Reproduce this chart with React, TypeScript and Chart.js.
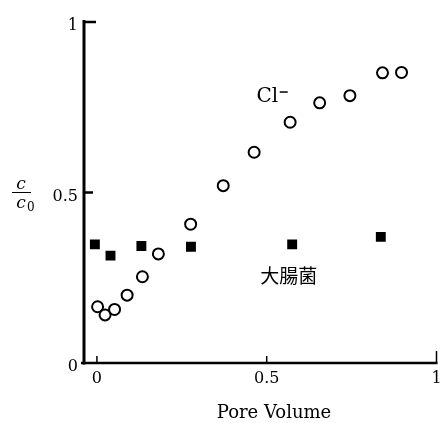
import React, { useEffect, useRef } from "react";
import { Chart, registerables } from "chart.js";

Chart.register(...registerables);

// Cl- breakthrough (open circles)
const clX = [0.002, 0.024, 0.052, 0.089, 0.134, 0.181, 0.276, 0.372, 0.463, 0.569, 0.656, 0.745, 0.841, 0.897];
const clY = [0.165, 0.141, 0.157, 0.199, 0.253, 0.32, 0.407, 0.52, 0.618, 0.706, 0.763, 0.784, 0.851, 0.852];

// E. coli (filled squares)
const ecoliX = [-0.006, 0.04, 0.131, 0.277, 0.575, 0.836];
const ecoliY = [0.348, 0.315, 0.343, 0.341, 0.348, 0.37];

const xTicks = [0, 0.5, 1];
const xTickLabels = ["0", "0.5", "1"];
const yTicks = [0, 0.5, 1];
const yTickLabels = ["0", "0.5", "1"];

const xTitle = "Pore Volume";
const clLabel = "Cl";
const clLabelPos = [0.47, 0.78];
const ecoliLabel = "大腸菌";
const ecoliLabelPos = [0.565, 0.255];

const SERIF = '"DejaVu Serif", "Liberation Serif", serif';

const axesPlugin = {
  id: "axesPlugin",
  afterDraw(chart: any) {
    const { ctx, chartArea, scales } = chart;
    const xs = scales.x;
    const ys = scales.y;
    const left = chartArea.left;
    const right = chartArea.right;
    const top = chartArea.top;
    const bottom = chartArea.bottom;
    ctx.save();
    ctx.strokeStyle = "#000";
    ctx.fillStyle = "#000";
    ctx.lineCap = "butt";
    // y axis
    ctx.lineWidth = 3;
    ctx.beginPath();
    ctx.moveTo(left, top - 2);
    ctx.lineTo(left, bottom + 1.5);
    ctx.stroke();
    // x axis
    ctx.lineWidth = 2.5;
    ctx.beginPath();
    ctx.moveTo(left - 3, bottom);
    ctx.lineTo(right + 1, bottom);
    ctx.stroke();

    // y ticks (inward)
    ctx.lineWidth = 2.5;
    yTicks.forEach((v, i) => {
      const py = ys.getPixelForValue(v);
      if (v !== 0) {
        ctx.beginPath();
        ctx.moveTo(left, py);
        ctx.lineTo(left + (v === 1 ? 12 : 9), py);
        ctx.stroke();
      }
      ctx.font = `16px ${SERIF}`;
      ctx.textAlign = "right";
      ctx.textBaseline = "middle";
      ctx.fillText(yTickLabels[i], left - 6, py + 4);
    });

    // x ticks (inward)
    ctx.lineWidth = 1.5;
    xTicks.forEach((v, i) => {
      const px = xs.getPixelForValue(v);
      ctx.beginPath();
      ctx.moveTo(px, bottom);
      ctx.lineTo(px, bottom - (v === 1 ? 12 : 7));
      ctx.stroke();
      ctx.font = `16px ${SERIF}`;
      ctx.textAlign = "center";
      ctx.textBaseline = "middle";
      ctx.fillText(xTickLabels[i], px, bottom + 16);
    });

    // x title
    ctx.font = `18px ${SERIF}`;
    ctx.textAlign = "center";
    ctx.textBaseline = "alphabetic";
    ctx.fillText(xTitle, 274, 418);

    // y title: c / c0 fraction
    ctx.font = `italic 17px ${SERIF}`;
    ctx.textAlign = "center";
    ctx.textBaseline = "alphabetic";
    ctx.fillText("c", 21, 189);
    ctx.fillText("c", 21, 208);
    ctx.font = `12px ${SERIF}`;
    ctx.textAlign = "left";
    ctx.fillText("0", 27, 211);
    ctx.lineWidth = 1;
    ctx.beginPath();
    ctx.moveTo(12, 192.5);
    ctx.lineTo(31, 192.5);
    ctx.stroke();

    // Cl- label
    const clPx = xs.getPixelForValue(clLabelPos[0]);
    const clPy = ys.getPixelForValue(clLabelPos[1]);
    ctx.font = `20px ${SERIF}`;
    ctx.textAlign = "left";
    ctx.textBaseline = "middle";
    ctx.fillText(clLabel, clPx, clPy);
    const clW = ctx.measureText(clLabel).width;
    ctx.lineWidth = 1.5;
    ctx.beginPath();
    ctx.moveTo(clPx + clW + 1.5, clPy - 5);
    ctx.lineTo(clPx + clW + 9.5, clPy - 5);
    ctx.stroke();

    // E. coli label
    const ePx = xs.getPixelForValue(ecoliLabelPos[0]);
    const ePy = ys.getPixelForValue(ecoliLabelPos[1]);
    ctx.font = `19px "Noto Sans CJK JP", sans-serif`;
    ctx.textAlign = "center";
    ctx.textBaseline = "middle";
    ctx.fillText(ecoliLabel, ePx, ePy);
    ctx.restore();
  },
};

export default function App() {
  const canvasRef = useRef<HTMLCanvasElement | null>(null);

  useEffect(() => {
    if (!canvasRef.current) return;
    const chart = new Chart(canvasRef.current, {
      type: "scatter",
      data: {
        datasets: [
          {
            label: "Cl-",
            data: clX.map((x, i) => ({ x, y: clY[i] })),
            pointStyle: "circle",
            pointRadius: 5.5,
            pointBorderWidth: 2,
            pointBorderColor: "#000",
            pointBackgroundColor: "#fff",
          },
          {
            label: "大腸菌",
            data: ecoliX.map((x, i) => ({ x, y: ecoliY[i] })),
            pointStyle: "rect",
            pointRadius: 7,
            pointBorderWidth: 0,
            pointBorderColor: "#000",
            pointBackgroundColor: "#000",
          },
        ],
      },
      options: {
        responsive: false,
        animation: false,
        events: [],
        layout: { padding: { left: 84, right: 2, top: 22, bottom: 60 } },
        plugins: {
          legend: { display: false },
          tooltip: { enabled: false },
        },
        scales: {
          x: { type: "linear", display: false, min: -0.038, max: 1 },
          y: { type: "linear", display: false, min: 0, max: 1 },
        },
      },
      plugins: [axesPlugin],
    });
    return () => chart.destroy();
  }, []);

  return (
    <div style={{ position: "absolute", left: 0, top: 0, width: 444, height: 423, background: "#fff" }}>
      <canvas ref={canvasRef} width={444} height={423} />
    </div>
  );
}
